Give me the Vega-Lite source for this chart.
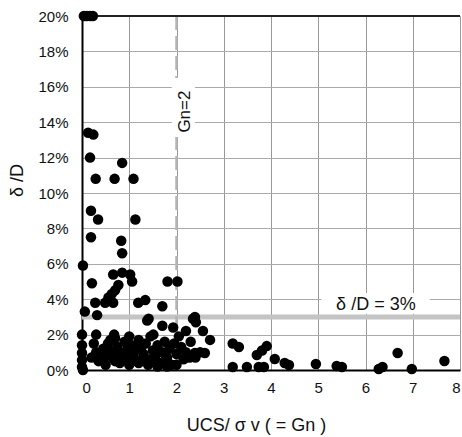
{
  "$schema": "https://vega.github.io/schema/vega-lite/v6.json",
  "width": 378,
  "height": 354,
  "autosize": {"type": "none"},
  "padding": {"left": 82, "top": 16, "right": 2, "bottom": 67},
  "background": "white",
  "config": {"view": {"stroke": null}},
  "datasets": {
    "pts": [
      {"x": 0.04, "y": 0.2}, {"x": 0.1, "y": 0.2}, {"x": 0.17, "y": 0.2}, {"x": 0.23, "y": 0.2},
      {"x": 0.13, "y": 0.134}, {"x": 0.24, "y": 0.133},
      {"x": 0.17, "y": 0.12}, {"x": 0.85, "y": 0.117}, {"x": 0.29, "y": 0.108}, {"x": 0.69, "y": 0.108}, {"x": 1.09, "y": 0.108},
      {"x": 0.19, "y": 0.09}, {"x": 0.34, "y": 0.085}, {"x": 1.13, "y": 0.085},
      {"x": 0.19, "y": 0.075}, {"x": 0.83, "y": 0.073}, {"x": 0.85, "y": 0.066},
      {"x": 0.02, "y": 0.059},
      {"x": 0.66, "y": 0.054}, {"x": 0.85, "y": 0.055}, {"x": 1.02, "y": 0.054},
      {"x": 0.21, "y": 0.049}, {"x": 1.06, "y": 0.05}, {"x": 0.77, "y": 0.048}, {"x": 0.7, "y": 0.045}, {"x": 0.63, "y": 0.043}, {"x": 0.56, "y": 0.041},
      {"x": 1.81, "y": 0.05}, {"x": 2.02, "y": 0.05},
      {"x": 0.28, "y": 0.038}, {"x": 0.49, "y": 0.038}, {"x": 0.66, "y": 0.038}, {"x": 1.19, "y": 0.038}, {"x": 1.34, "y": 0.0395},
      {"x": 0.06, "y": 0.033}, {"x": 0.32, "y": 0.031},
      {"x": 1.41, "y": 0.029}, {"x": 1.7, "y": 0.036},
      {"x": 2.35, "y": 0.029}, {"x": 2.39, "y": 0.03}, {"x": 2.41, "y": 0.027}, {"x": 2.56, "y": 0.022}, {"x": 2.71, "y": 0.017},
      {"x": 2.39, "y": 0.0096}, {"x": 2.6, "y": 0.0096}, {"x": 2.28, "y": 0.007},
      {"x": 3.19, "y": 0.015}, {"x": 3.32, "y": 0.013}, {"x": 3.19, "y": 0.0017}, {"x": 3.49, "y": 0.0017}, {"x": 3.74, "y": 0.0017}, {"x": 3.85, "y": 0.0017},
      {"x": 3.7, "y": 0.0085}, {"x": 3.81, "y": 0.011}, {"x": 3.91, "y": 0.0135}, {"x": 4.08, "y": 0.0062}, {"x": 4.29, "y": 0.004}, {"x": 4.38, "y": 0.0028},
      {"x": 4.95, "y": 0.0034}, {"x": 5.39, "y": 0.0023}, {"x": 5.5, "y": 0.0017}, {"x": 6.28, "y": 0.0006}, {"x": 6.36, "y": 0.0017},
      {"x": 6.68, "y": 0.0096}, {"x": 6.98, "y": 0.0006}, {"x": 7.67, "y": 0.0051},
      {"x": 0.0, "y": 0.02}, {"x": 0.0, "y": 0.014}, {"x": 0.0, "y": 0.0096}, {"x": 0.0, "y": 0.0056}, {"x": 0.0, "y": 0.0017}, {"x": 0.02, "y": 0.0},
      {"x": 0.3, "y": 0.02}, {"x": 0.68, "y": 0.02},
      {"x": 1.38, "y": 0.028}, {"x": 1.7, "y": 0.025}, {"x": 1.93, "y": 0.024}, {"x": 1.51, "y": 0.02},
      {"x": 0.3, "y": 0.01}, {"x": 0.4, "y": 0.008}, {"x": 0.45, "y": 0.012}, {"x": 0.5, "y": 0.009}, {"x": 0.55, "y": 0.015},
      {"x": 0.6, "y": 0.01}, {"x": 0.65, "y": 0.007}, {"x": 0.7, "y": 0.018}, {"x": 0.75, "y": 0.013}, {"x": 0.8, "y": 0.01},
      {"x": 0.85, "y": 0.006}, {"x": 0.9, "y": 0.016}, {"x": 0.95, "y": 0.011}, {"x": 1.0, "y": 0.008}, {"x": 1.0, "y": 0.019},
      {"x": 1.05, "y": 0.014}, {"x": 1.1, "y": 0.01}, {"x": 1.15, "y": 0.005}, {"x": 1.2, "y": 0.017}, {"x": 1.25, "y": 0.012},
      {"x": 1.3, "y": 0.009}, {"x": 1.35, "y": 0.015}, {"x": 1.4, "y": 0.006}, {"x": 1.45, "y": 0.019}, {"x": 1.5, "y": 0.011},
      {"x": 1.55, "y": 0.008}, {"x": 1.6, "y": 0.014}, {"x": 1.65, "y": 0.004}, {"x": 1.7, "y": 0.01}, {"x": 1.75, "y": 0.016},
      {"x": 1.8, "y": 0.007}, {"x": 1.85, "y": 0.012}, {"x": 1.9, "y": 0.003}, {"x": 1.95, "y": 0.015}, {"x": 2.0, "y": 0.009},
      {"x": 2.05, "y": 0.019}, {"x": 2.1, "y": 0.013}, {"x": 2.15, "y": 0.006}, {"x": 2.2, "y": 0.01}, {"x": 2.3, "y": 0.016},
      {"x": 0.35, "y": 0.005}, {"x": 0.5, "y": 0.003}, {"x": 0.2, "y": 0.007}, {"x": 0.25, "y": 0.015}, {"x": 0.6, "y": 0.017},
      {"x": 0.8, "y": 0.004}, {"x": 1.0, "y": 0.003}, {"x": 1.2, "y": 0.004}, {"x": 1.4, "y": 0.003}, {"x": 1.6, "y": 0.002},
      {"x": 1.8, "y": 0.002}, {"x": 2.0, "y": 0.003}, {"x": 2.5, "y": 0.01}, {"x": 2.2, "y": 0.022}, {"x": 2.4, "y": 0.007},
      {"x": 0.45, "y": 0.006}, {"x": 0.7, "y": 0.005}, {"x": 0.9, "y": 0.008}, {"x": 1.1, "y": 0.007}, {"x": 1.3, "y": 0.006},
      {"x": 1.55, "y": 0.005}, {"x": 1.75, "y": 0.009}, {"x": 0.55, "y": 0.012}, {"x": 1.15, "y": 0.013}, {"x": 0.35, "y": 0.0085}
    ]
  },
  "encoding": {
    "x": {
      "field": "x", "type": "quantitative",
      "scale": {"domain": [0, 8], "nice": false},
      "axis": {
        "values": [0, 1, 2, 3, 4, 5, 6, 7, 8],
        "title": "UCS/ σ v ( = Gn )",
        "grid": true, "gridColor": "#999999", "gridWidth": 1,
        "ticks": false, "domainColor": "#000000", "domainWidth": 2,
        "labelFont": "Liberation Sans", "labelFontSize": 15, "labelColor": "#111111", "labelPadding": 10,
        "titleFont": "Liberation Sans", "titleFontSize": 18, "titleFontWeight": "normal", "titleColor": "#111111",
        "titleX": 174, "titleY": 60, "titleBaseline": "alphabetic"
      }
    },
    "y": {
      "field": "y", "type": "quantitative",
      "scale": {"domain": [0, 0.2], "nice": false},
      "axis": {
        "values": [0, 0.02, 0.04, 0.06, 0.08, 0.1, 0.12, 0.14, 0.16, 0.18, 0.2],
        "format": ".0%",
        "title": "δ /D",
        "grid": true, "gridColor": "#aaaaaa", "gridWidth": 1,
        "ticks": false, "domainColor": "#000000", "domainWidth": 2,
        "labelFont": "Liberation Sans", "labelFontSize": 15, "labelColor": "#111111", "labelPadding": 14,
        "titleFont": "Liberation Sans", "titleFontSize": 18, "titleFontWeight": "normal", "titleColor": "#111111",
        "titleX": -60, "titleY": 164, "titleBaseline": "alphabetic", "titleAngle": -90
      }
    }
  },
  "layer": [
    {
      "data": {"values": [{"x": 0, "x2": 8, "y": 0.03}]},
      "mark": {"type": "rule", "color": "#c4c4c4", "strokeWidth": 5},
      "encoding": {"x2": {"field": "x2"}}
    },
    {
      "data": {"values": [{"x": 2, "y": 0, "y2": 0.2}]},
      "mark": {"type": "rule", "color": "#b4b4b4", "strokeWidth": 2.5, "strokeDash": [14, 6]},
      "encoding": {"y2": {"field": "y2"}}
    },
    {
      "data": {"values": [
        {"x": 5.07, "x2": 7.36, "y": 0.0318, "y2": 0.0435},
        {"x": 1.9, "x2": 2.39, "y": 0.1316, "y2": 0.165}
      ]},
      "mark": {"type": "rect", "fill": "white"},
      "encoding": {"x2": {"field": "x2"}, "y2": {"field": "y2"}}
    },
    {
      "data": {"values": [{"x": 6.22, "y": 0.0367, "t": "δ /D = 3%"}]},
      "mark": {"type": "text", "font": "Liberation Sans", "fontSize": 18, "color": "#111111", "align": "center", "baseline": "middle"},
      "encoding": {"text": {"field": "t"}}
    },
    {
      "data": {"values": [{"x": 2.18, "y": 0.146, "t": "Gn=2"}]},
      "mark": {"type": "text", "font": "Liberation Sans", "fontSize": 17, "color": "#111111", "align": "center", "baseline": "middle", "angle": 270},
      "encoding": {"text": {"field": "t"}}
    },
    {
      "data": {"values": [{"x": 0, "x2": 8, "y": 0.2}]},
      "mark": {"type": "rule", "color": "#222222", "strokeWidth": 2},
      "encoding": {"x2": {"field": "x2"}}
    },
    {
      "data": {"name": "pts"},
      "mark": {"type": "circle", "size": 110, "color": "#000000", "opacity": 1}
    }
  ]
}
